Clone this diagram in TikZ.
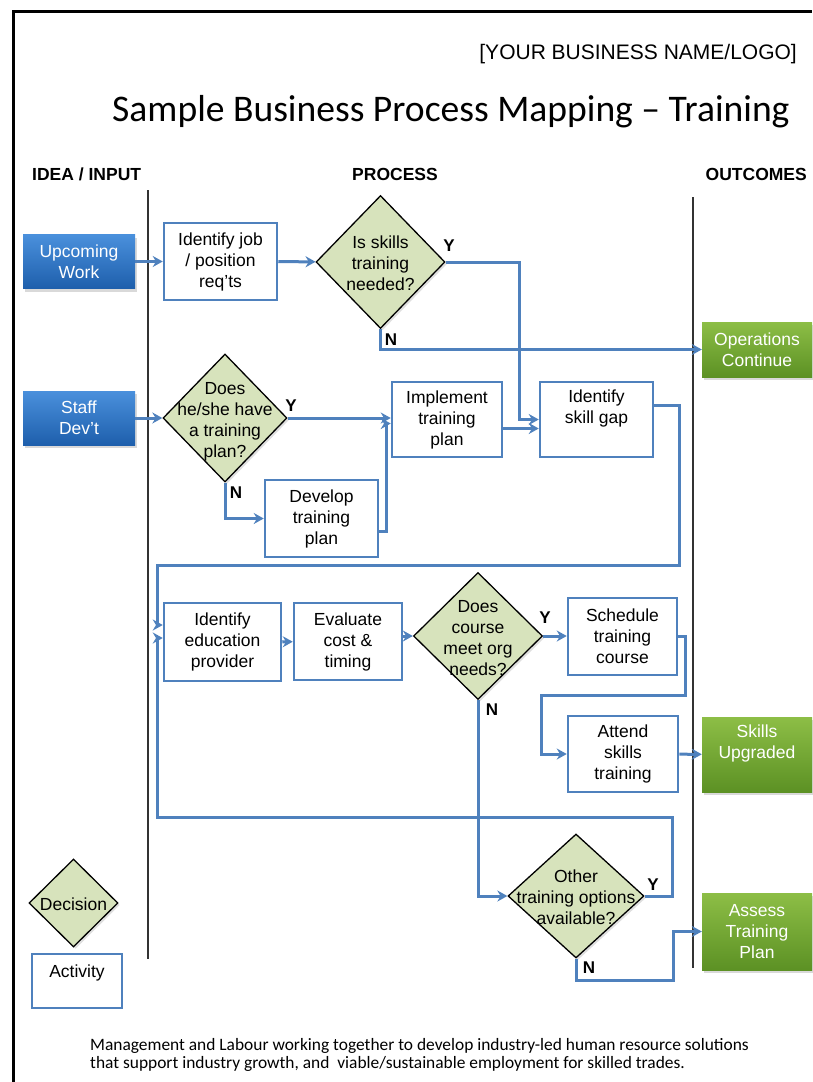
\documentclass[tikz,border=0pt]{standalone}
\usepackage{fontspec}
\setmainfont{Liberation Sans}
\newfontfamily\titlefont{Carlito}
\usetikzlibrary{positioning, arrows.meta, shapes.geometric, shadows, calc}

\definecolor{flowblue}{RGB}{79,129,189}
\definecolor{inputtop}{RGB}{74,144,220}
\definecolor{inputbot}{RGB}{30,95,172}
\definecolor{outtop}{RGB}{141,190,70}
\definecolor{outbot}{RGB}{92,145,36}
\definecolor{decfill}{RGB}{215,227,188}

% text of a decision diamond, kept out of the shape size
\newcommand{\dtxt}[1]{\smash{\raisebox{-8pt}{\makebox[0pt]{\begin{tabular}{@{}c@{}}#1\end{tabular}}}}}

\tikzset{
    every node/.style={font=\fontsize{17.5}{21}\selectfont},
    activity/.style={rectangle, draw=flowblue, line width=2.5pt, fill=white, align=center, inner sep=0pt},
    inputbox/.style={rectangle, top color=inputtop, bottom color=inputbot, text=white, align=center, inner sep=0pt,
        drop shadow={opacity=0.3, shadow xshift=2pt, shadow yshift=-3pt}},
    outbox/.style={rectangle, top color=outtop, bottom color=outbot, text=white, align=center, inner sep=0pt,
        drop shadow={opacity=0.3, shadow xshift=2pt, shadow yshift=-3pt}},
    decision/.style={diamond, draw=black, line width=1.3pt, fill=decfill, inner sep=0pt,
        drop shadow={opacity=0.25, shadow xshift=2pt, shadow yshift=-2pt}},
    flow/.style={draw=flowblue, line width=3pt, -{Stealth[length=10pt, width=11pt]}},
    yn/.style={font=\fontsize{17}{17}\selectfont\bfseries},
    colhead/.style={font=\fontsize{17.5}{17.5}\selectfont\bfseries, anchor=base, inner sep=0pt},
}

\begin{document}
\begin{tikzpicture}[x=1pt, y=-1pt]
    \useasboundingbox (0,0) rectangle (812,1082);

    % page frame
    \draw[line width=3pt] (13,1082) -- (13,11) -- (812,11);

    % headings
    \node[anchor=base east, inner sep=0pt, font=\fontsize{21}{21}\selectfont] (logo) at (797,59) {[YOUR BUSINESS NAME/LOGO]};
    \node[anchor=base west, inner sep=0pt, font=\titlefont\fontsize{37.6}{37.6}\selectfont] (title) at (112,121) {Sample Business Process Mapping – Training};
    \node[colhead, anchor=base west] (hidea) at (32,180) {IDEA / INPUT};
    \node[colhead] (hproc) at (395,180) {PROCESS};
    \node[colhead, anchor=base east] (hout) at (807,180) {OUTCOMES};

    % lane lines
    \draw[line width=1.5pt, black!80] (148,190) -- (148,959);
    \draw[line width=1.5pt, black!80] (693,197) -- (693,968);

    % inputs
    \node[inputbox, minimum width=112, minimum height=54] (upcoming) at (79,261.5) {Upcoming\\Work};
    \node[inputbox, minimum width=112, minimum height=54] (staff) at (79,418) {Staff\\Dev't};

    % process
    \node[activity, minimum width=113, minimum height=77] (jobreq) at (220.5,261.5) {Identify job\\/ position\\req'ts};
    \node[decision, minimum width=129, minimum height=133] (needed) at (380.5,262) {\dtxt{Is skills\\training\\needed?}};
    \node[decision, minimum width=124, minimum height=128] (hasplan) at (225,418) {\dtxt{Does\\he/she have\\a training\\plan?}};
    \node[activity, minimum width=110, minimum height=75] (implement) at (447,419.5) {Implement\\training\\plan};
    \node[activity, minimum width=113, minimum height=75, text depth=25pt] (skillgap) at (596.5,419.5) {Identify\\skill gap};
    \node[activity, minimum width=113, minimum height=77] (devplan) at (321.5,518.5) {Develop\\training\\plan};
    \node[activity, minimum width=117, minimum height=78] (provider) at (222.5,642) {Identify\\education\\provider};
    \node[activity, minimum width=108, minimum height=77] (costtime) at (348,641.5) {Evaluate\\cost \&\\timing};
    \node[decision, minimum width=129, minimum height=127] (meetsneeds) at (478,636) {\dtxt{Does\\course\\meet org\\needs?}};
    \node[activity, minimum width=109, minimum height=77] (schedule) at (622.5,636.5) {Schedule\\training\\course};
    \node[activity, minimum width=110, minimum height=76] (attend) at (623,754) {Attend\\skills\\training};
    \node[decision, minimum width=136, minimum height=124] (otheropts) at (576,896) {\dtxt{Other\\training options\\available?}};

    % outcomes
    \node[outbox, minimum width=110, minimum height=55] (opscont) at (757,349.5) {Operations\\Continue};
    \node[outbox, minimum width=110, minimum height=75, text depth=25pt] (upgraded) at (757,754.5) {Skills\\Upgraded};
    \node[outbox, minimum width=110, minimum height=77] (assess) at (757,931.5) {Assess\\Training\\Plan};

    % legend
    \node[decision, minimum width=89, minimum height=88] (legdec) at (73.5,903) {\dtxt{Decision}};
    \node[activity, minimum width=90, minimum height=54, text depth=20pt] (legact) at (77,981) {Activity};

    % bends
    \coordinate (gapR) at (679,565);
    \coordinate (loopT) at (157,565);
    \coordinate (loopB) at (157,817);
    \coordinate (schR) at (685,695);
    \coordinate (schL) at (541,695);
    \coordinate (noOpt) at (673,980);

    % connectors
    \draw[flow] (upcoming) -- (jobreq);
    \draw[flow] (jobreq) -- (needed);
    \draw[flow] (needed.east) -- ++(74,0) |- (skillgap.west);
    \draw[flow] (needed.south) |- (opscont.west);
    \draw[flow] (staff) -- (hasplan);
    \draw[flow] (hasplan.east) -- (hasplan.east -| implement.west);
    \draw[flow] (hasplan.south) |- (devplan.west);
    \draw[flow] ([yshift=-13pt]devplan.east) -- ++(7,0) |- ([yshift=-4pt]implement.west);
    \draw[flow] ([yshift=-9pt]implement.east) -- ([yshift=-9pt]skillgap.west);
    \draw[flow] ([yshift=14pt]skillgap.east) -| (gapR) -- (loopT) |- ([yshift=17pt]provider.west);
    \draw[flow] (provider) -- (costtime);
    \draw[flow] (costtime.east |- meetsneeds.west) -- (meetsneeds.west);
    \draw[flow] (meetsneeds.east) -- (meetsneeds.east -| schedule.west);
    \draw[flow] (schedule.east) -| (schR) -- (schL) |- (attend.west);
    \draw[flow] (attend) -- (upgraded);
    \draw[flow] (meetsneeds.south) |- (otheropts.west);
    \draw[flow] (otheropts.east) -- ++(28,0) |- (loopB) |- ([yshift=4pt]provider.west);
    \draw[flow] (otheropts.south) |- (noOpt) |- (assess.west);

    % yes / no
    \node[yn] (needY) at (449,246) {Y};
    \node[yn] (needN) at (391,340) {N};
    \node[yn] (planY) at (291,406) {Y};
    \node[yn] (planN) at (236,493) {N};
    \node[yn] (courseY) at (545,618) {Y};
    \node[yn] (courseN) at (492,710) {N};
    \node[yn] (otherY) at (653,885) {Y};
    \node[yn] (otherN) at (589,968) {N};

    % footer
    \node[anchor=west, align=left, inner sep=0pt, font=\titlefont\fontsize{17.4}{18.5}\selectfont] (footer) at (90,1055)
        {Management and Labour working together to develop industry-led human resource solutions\\that support industry growth, and\ \ viable/sustainable employment for skilled trades.};
\end{tikzpicture}
\end{document}
